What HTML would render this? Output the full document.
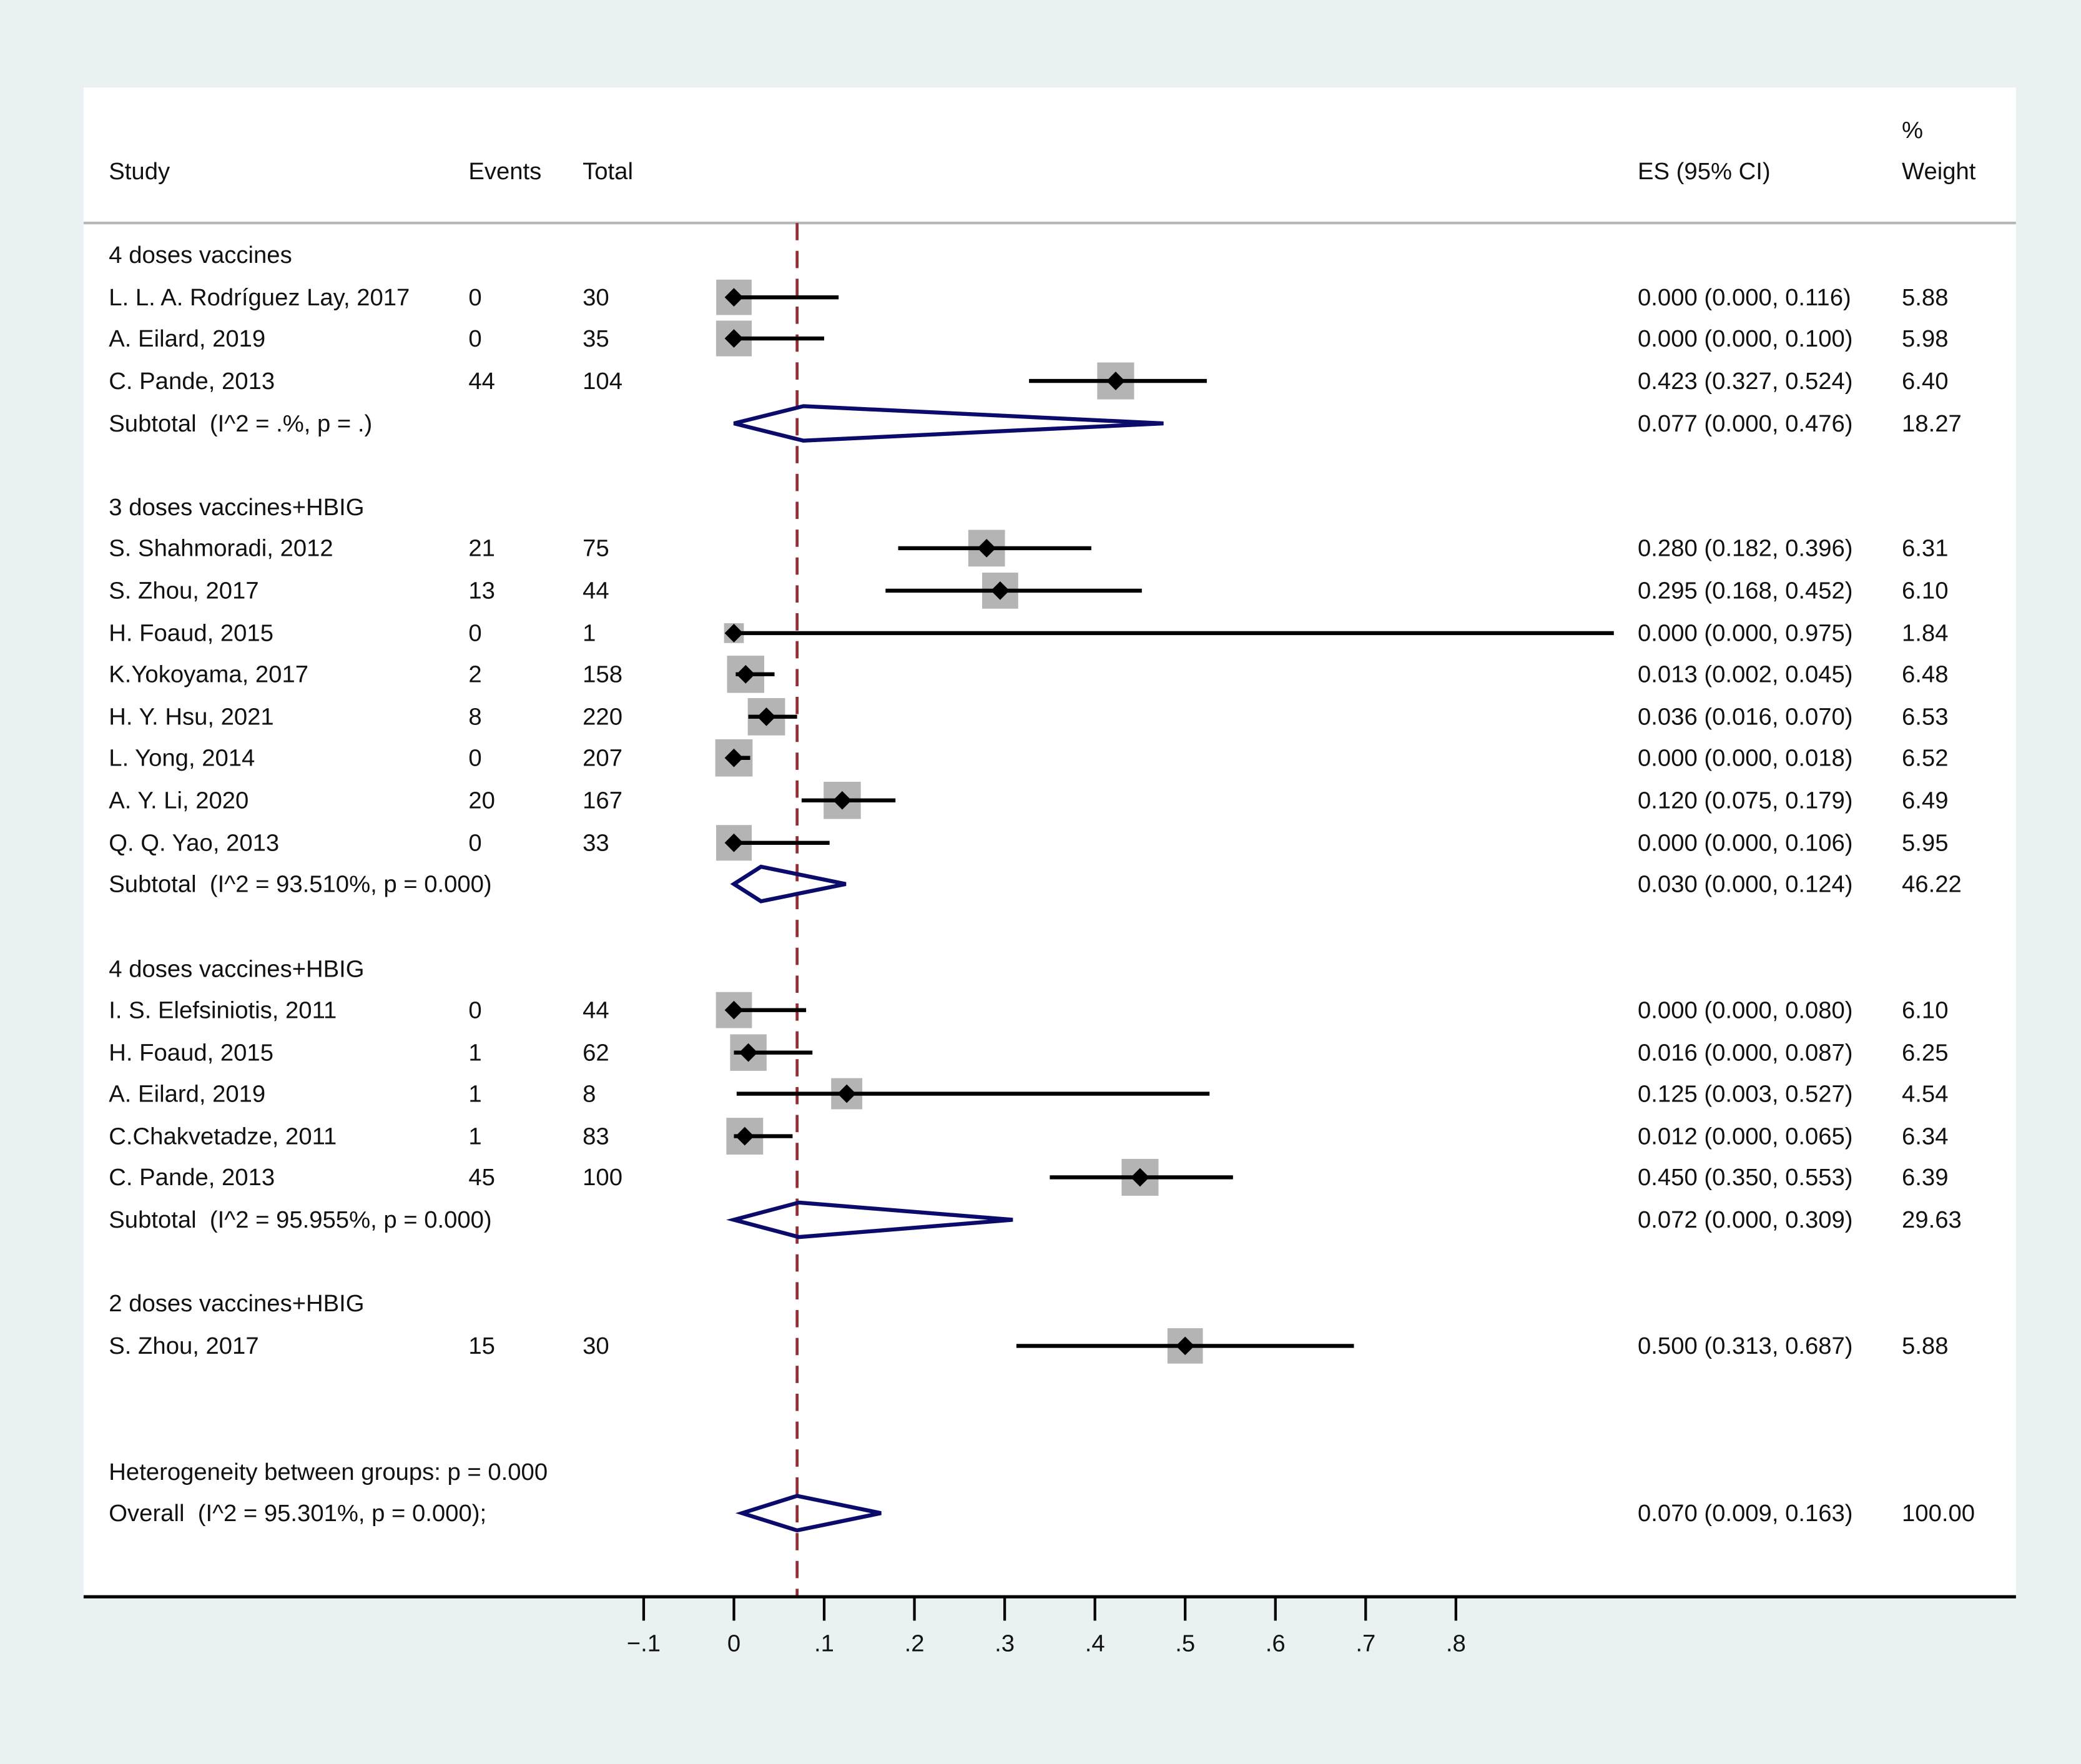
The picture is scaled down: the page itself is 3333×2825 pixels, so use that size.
<!DOCTYPE html>
<html><head><meta charset="utf-8"><style>
html,body{margin:0;padding:0;background:#eaf1f3;}
svg{display:block;}
text{font-family:"Liberation Sans",Arial,sans-serif;font-size:18px;fill:#111;white-space:pre;}
</style></head><body>
<svg id="chart" width="3333" height="2825" viewBox="0 0 1568 1329" preserveAspectRatio="none" xmlns="http://www.w3.org/2000/svg">
<rect x="0" y="0" width="1568" height="1329" fill="#eaf1f3"/>
<rect x="63" y="66" width="1456" height="1137" fill="#ffffff"/>
<line x1="63" y1="168" x2="1519" y2="168" stroke="#b8b8b8" stroke-width="2"/>
<text x="1433" y="104">%</text>
<text x="82" y="135">Study</text>
<text x="353" y="135">Events</text>
<text x="439" y="135">Total</text>
<text x="1234" y="135">ES (95% CI)</text>
<text x="1433" y="135">Weight</text>
<g id="marks"></g>
</svg>
<script>
const rowKinds = ['h','s','s','s','t','h','s','s','s','s','s','s','s','s','t','h','s','s','s','s','s','t','h','s','x','x','o'];
const rowY = [192,224,255,287,319,382,413,445,477,508,540,571,603,635,666,730,761,793,824,856,887,919,982,1014,1109,1109,1140];
const labels = ['4 doses vaccines','L. L. A. Rodríguez Lay, 2017','A. Eilard, 2019','C. Pande, 2013','Subtotal  (I^2 = .%, p = .)',
'3 doses vaccines+HBIG','S. Shahmoradi, 2012','S. Zhou, 2017','H. Foaud, 2015','K.Yokoyama, 2017','H. Y. Hsu, 2021','L. Yong, 2014','A. Y. Li, 2020','Q. Q. Yao, 2013','Subtotal  (I^2 = 93.510%, p = 0.000)',
'4 doses vaccines+HBIG','I. S. Elefsiniotis, 2011','H. Foaud, 2015','A. Eilard, 2019','C.Chakvetadze, 2011','C. Pande, 2013','Subtotal  (I^2 = 95.955%, p = 0.000)',
'2 doses vaccines+HBIG','S. Zhou, 2017','Heterogeneity between groups: p = 0.000','','Overall  (I^2 = 95.301%, p = 0.000);'];
const events = ['','0','0','44','','','21','13','0','2','8','0','20','0','','','0','1','1','1','45','','','15','','',''];
const totals = ['','30','35','104','','','75','44','1','158','220','207','167','33','','','44','62','8','83','100','','','30','','',''];
const es = [null,0,0,0.423,0.077,null,0.280,0.295,0,0.013,0.036,0,0.120,0,0.030,null,0,0.016,0.125,0.012,0.450,0.072,null,0.500,null,null,0.070];
const lo = [null,0,0,0.327,0,null,0.182,0.168,0,0.002,0.016,0,0.075,0,0,null,0,0,0.003,0,0.350,0,null,0.313,null,null,0.009];
const hi = [null,0.116,0.100,0.524,0.476,null,0.396,0.452,0.975,0.045,0.070,0.018,0.179,0.106,0.124,null,0.080,0.087,0.527,0.065,0.553,0.309,null,0.687,null,null,0.163];
const weights = ['','5.88','5.98','6.40','18.27','','6.31','6.10','1.84','6.48','6.53','6.52','6.49','5.95','46.22','','6.10','6.25','4.54','6.34','6.39','29.63','','5.88','','','100.00'];
const overallES = 0.070;
const ticks = [-0.1,0,0.1,0.2,0.3,0.4,0.5,0.6,0.7,0.8];
const tickLabels = ['\u2212.1','0','.1','.2','.3','.4','.5','.6','.7','.8'];

const NS='http://www.w3.org/2000/svg';
const g=document.getElementById('marks');
const xs = v => 553 + v*680;
function mk(tag, attrs){const e=document.createElementNS(NS,tag);for(const k in attrs)e.setAttribute(k,attrs[k]);g.appendChild(e);return e;}
function txt(x,y,s){const e=mk('text',{x:x,y:y+6});e.textContent=s;return e;}
const fmt=v=>v.toFixed(3);

let ref=mk('line',{x1:xs(overallES),y1:168,x2:xs(overallES),y2:1203,stroke:'#962d32','stroke-width':2.2,'stroke-dasharray':'13 8'});



rowKinds.forEach((k,i)=>{
  const y=rowY[i];
  if(labels[i]){let t=txt(82,y,labels[i]);
    
    }
  if(events[i]){let t=txt(353,y,events[i]);
    
    }
  if(totals[i]){let t=txt(439,y,totals[i]);
    
    }
  if(es[i]!==null){let t=txt(1234,y,fmt(es[i])+' ('+fmt(lo[i])+', '+fmt(hi[i])+')');
    
    }
  if(weights[i]){let t=txt(1433,y,weights[i]);
    
    }
  if(k==='s'){
    const w=parseFloat(weights[i]); const sz=11*Math.sqrt(w);
    let b=mk('rect',{x:xs(es[i])-sz/2,y:y-sz/2,width:sz,height:sz,fill:'#b4b4b4'});
    
    
    let l=mk('line',{x1:xs(lo[i]),y1:y,x2:xs(hi[i]),y2:y,stroke:'#000','stroke-width':3});
    
    
    const cx=xs(es[i]);
    let d=mk('polygon',{points:`${cx},${y-7} ${cx+7},${y} ${cx},${y+7} ${cx-7},${y}`,fill:'#000'});
    
    
  }
  if(k==='t'||k==='o'){
    const a=xs(lo[i]),c=xs(es[i]),b=xs(hi[i]);
    let d=mk('polygon',{points:`${a},${y} ${c},${y-13} ${b},${y} ${c},${y+13}`,fill:'none',stroke:'#0b0b6b','stroke-width':3,'stroke-linejoin':'miter'});
    
    
  }
});

let ax=mk('line',{x1:63,y1:1203,x2:1519,y2:1203,stroke:'#000','stroke-width':2.4});


ticks.forEach((v,i)=>{
  let t=mk('line',{x1:xs(v),y1:1203,x2:xs(v),y2:1221,stroke:'#000','stroke-width':2});
  
  
  let lb=mk('text',{x:xs(v),y:1244,'text-anchor':'middle'});
  lb.textContent=tickLabels[i];
  
  
});
</script>
</body></html>
